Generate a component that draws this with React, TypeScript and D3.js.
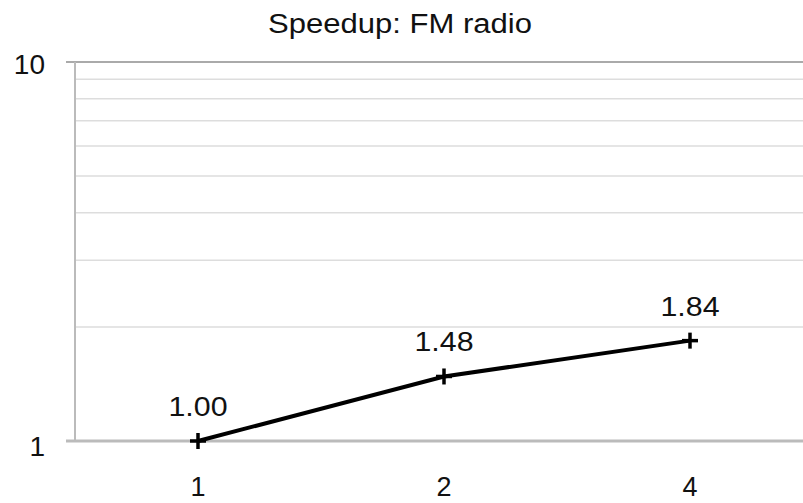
import React from 'react';
import * as d3 from 'd3';

const categories = ['1', '2', '4'];
const speedups = [1.0, 1.48, 1.84];
const yTicks = [1, 10];
const gridValues = [2, 3, 4, 5, 6, 7, 8, 9, 10];

const App = () => {
  const W = 803;
  const H = 503;
  const margin = { top: 62, left: 75, bottom: 62 };
  const plotRight = 813; // plot runs past the visible edge
  const y0 = H - margin.bottom;

  const x = d3.scaleBand<string>()
    .domain(categories)
    .range([margin.left, plotRight]);

  const y = d3.scaleLog()
    .domain([1, 10])
    .range([y0, margin.top]);

  const cx = (i: number) => (x(categories[i]) as number) + x.bandwidth() / 2;

  const line = d3.line<number>()
    .x((d, i) => cx(i))
    .y(d => y(d));

  const font = "'Liberation Sans', Arial, Helvetica, sans-serif";

  return (
    <svg width={W} height={H} style={{ position: 'absolute', left: 0, top: 0 }}>
      <rect width={W} height={H} fill="#fff" />
      <text x={400} y={33} textAnchor="middle" fontFamily={font} fontSize={27}
        textLength={264} lengthAdjust="spacingAndGlyphs" fill="#111">
        Speedup: FM radio
      </text>

      {/* gridlines */}
      {gridValues.map(v => (
        <line key={v} x1={v === 10 ? margin.left - 9 : margin.left} x2={W}
          y1={y(v)} y2={y(v)}
          stroke={v === 10 ? '#aaa' : '#ddd'} strokeWidth={v === 10 ? 2 : 1.5} />
      ))}

      {/* axes */}
      <line x1={margin.left} x2={margin.left} y1={margin.top} y2={y0} stroke="#bbb" strokeWidth={2} />
      <line x1={margin.left - 9} x2={W} y1={y0} y2={y0} stroke="#bbb" strokeWidth={3} />

      {yTicks.map(t => (
        <text key={t} x={45} y={y(t) + (t === 10 ? 12 : 15)} textAnchor="end" fontFamily={font}
          fontSize={28} fill="#111">
          {t}
        </text>
      ))}

      {categories.map((c, i) => (
        <text key={c} x={cx(i)} y={496} textAnchor="middle"
          fontFamily={font} fontSize={27} fill="#111">
          {c}
        </text>
      ))}

      <path d={line(speedups) ?? ''} fill="none" stroke="#000" strokeWidth={4} />

      {speedups.map((v, i) => {
        const px = cx(i);
        const py = y(v);
        return (
          <g key={i}>
            <line x1={px - 8} x2={px + 8} y1={py} y2={py} stroke="#000" strokeWidth={3.5} />
            <line x1={px} x2={px} y1={py - 8} y2={py + 8} stroke="#000" strokeWidth={3.5} />
            <text x={px} y={py - 25} textAnchor="middle" fontFamily={font} fontSize={28}
              textLength={59} lengthAdjust="spacingAndGlyphs" fill="#111">
              {v.toFixed(2)}
            </text>
          </g>
        );
      })}
    </svg>
  );
};

export default App;
